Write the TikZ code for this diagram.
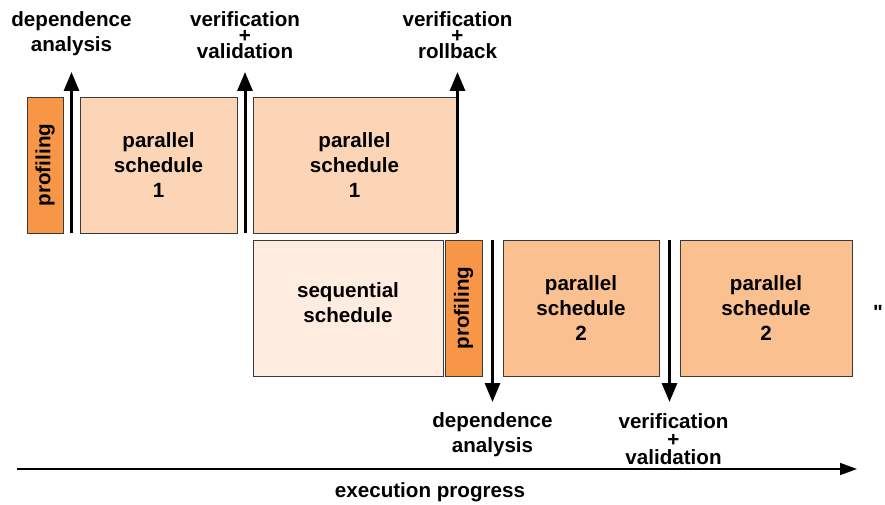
\documentclass[tikz,border=0pt]{standalone}
\usepackage{fontspec}
\setmainfont{Liberation Sans}
\usepackage{graphicx}
\usepackage{tikz}
\usetikzlibrary{positioning,calc,arrows.meta}
\definecolor{profcol}{HTML}{F79646}
\definecolor{paraone}{HTML}{FBD5B5}
\definecolor{paratwo}{HTML}{FAC090}
\definecolor{seqcol}{HTML}{FDECDF}
\definecolor{edgecol}{HTML}{3A3A3A}

\begin{document}
\begin{tikzpicture}[x=1pt, y=-1pt,
    every node/.style = {font=\fontsize{20.6}{25}\selectfont\bfseries, align=center},
    phase/.style = {draw=edgecol, line width=0.9pt, minimum height=136pt,
                    inner sep=0pt, outer sep=0pt},
    lbl/.style = {inner sep=1pt},
    flag/.style = {line width=3pt, -{Triangle[length=19pt,width=15pt]}},
    timeline/.style = {line width=1.6pt, -{Triangle[length=17pt,width=12pt]}}]
  \useasboundingbox (0,0) rectangle (885,505);

  \node[phase, fill=profcol, minimum width=36pt] (prof1) at (45,165) {\rotatebox{90}{profiling}};
  \node[phase, fill=paraone, minimum width=157pt, right=17pt of prof1] (par1) {parallel\\schedule\\1};
  \node[phase, fill=paraone, minimum width=203pt, right=16pt of par1] (par1r) {parallel\\schedule\\1};

  \node[phase, fill=seqcol, minimum width=190pt, below=7pt of par1r.south west, anchor=north west] (seq) {sequential\\schedule\\[-22pt]\strut};
  \node[phase, fill=profcol, minimum width=37pt, right=2pt of seq] (prof2) {\rotatebox{90}{profiling}};
  \node[phase, fill=paratwo, minimum width=156pt, right=21pt of prof2] (par2) {parallel\\schedule\\2};
  \node[phase, fill=paratwo, minimum width=172pt, right=21pt of par2] (par2r) {parallel\\schedule\\2};
  \node[anchor=base, inner sep=0pt] (more) at ($(par2r.east)+(26,11)$) {\textquotedbl};

  \coordinate (up1) at ($(prof1.south east)!.5!(par1.south west)$);
  \coordinate (up2) at ($(par1.south east)!.5!(par1r.south west)$);
  \coordinate (up3) at ($(par1r.south east)+(1.5,0)$);
  \coordinate (tip1) at ($(up1)+(0,-161)$);
  \coordinate (tip2) at ($(up2)+(0,-161)$);
  \coordinate (tip3) at ($(up3)+(0,-161)$);
  \draw[flag] (up1) -- (tip1);
  \draw[flag] (up2) -- (tip2);
  \draw[flag] (up3) -- (tip3);
  \node[lbl, anchor=north] (dep1) at (tip1 |- 0,10) {dependence\\analysis};
  \node[lbl, anchor=north] (ver1) at (tip2 |- 0,10) {verification\\[-9pt]+\\[-9pt]validation};
  \node[lbl, anchor=north] (ver2) at (tip3 |- 0,10) {verification\\[-9pt]+\\[-9pt]rollback};

  \coordinate (dn1) at ($(prof2.north east)!.5!(par2.north west)$);
  \coordinate (dn2) at ($(par2.north east)!.5!(par2r.north west)$);
  \coordinate (tip4) at ($(dn1)+(0,162)$);
  \coordinate (tip5) at ($(dn2)+(0,162)$);
  \draw[flag] (dn1) -- (tip4);
  \draw[flag] (dn2) -- (tip5);
  \node[lbl, below=9pt of tip4] (dep2) {dependence\\analysis};
  \node[lbl, below=10pt of tip5, xshift=4pt] (ver3) {verification\\[-7pt]+\\[-7pt]validation};

  \coordinate (t0) at (17,469);
  \coordinate (t1) at (857,469);
  \draw[timeline] (t0) -- (t1);
  \node (prog) at (430,492) {execution progress};
\end{tikzpicture}
\end{document}
